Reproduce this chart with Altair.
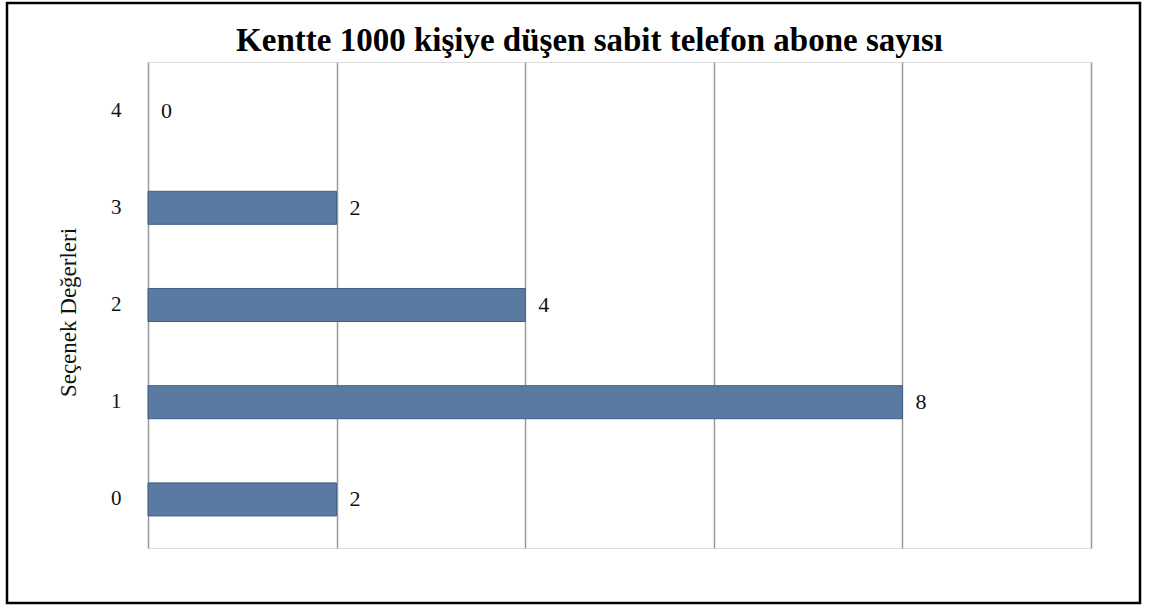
import altair as alt
import pandas as pd

categories = ["4", "3", "2", "1", "0"]
values = [0, 2, 4, 8, 2]

df = pd.DataFrame({"cat": categories, "val": values})

FONT = "Liberation Serif"

x_enc = alt.X("val:Q", scale=alt.Scale(domain=[0, 10], nice=False),
              axis=alt.Axis(values=[0, 2, 4, 6, 8, 10], labels=False, ticks=False,
                            domain=False, title=None, grid=True,
                            gridColor="#9a9a9a", gridWidth=1.5))
y_enc = alt.Y("cat:N", sort=categories,
              scale=alt.Scale(paddingInner=0.66, paddingOuter=0.33),
              axis=alt.Axis(title="Seçenek Değerleri", ticks=False, domain=False,
                            grid=False,
                            labelPadding=27, labelFont=FONT, labelFontSize=21,
                            labelColor="#111111",
                            titleFont=FONT, titleFontSize=23, titleFontWeight="normal",
                            titleColor="#111111", titleAngle=-90,
                            titleX=-80, titleY=250, titleAlign="center",
                            titleBaseline="middle"))

base = alt.Chart(df)

bars = base.transform_filter("datum.val > 0").mark_bar(
    color="#5a7aa2", stroke="#3f5f88", strokeWidth=1
).encode(x=x_enc, y=y_enc)

labels = base.mark_text(align="left", baseline="middle", dx=13, font=FONT,
                        fontSize=22, color="#111111").encode(
    x="val:Q", y=alt.Y("cat:N", sort=categories), text="val:Q"
)

border = alt.Chart(pd.DataFrame({"a": [0]})).mark_rect(
    filled=False, stroke="black", strokeWidth=2.5, clip=False
).encode(
    x=alt.value(-141), x2=alt.value(992), y=alt.value(-59), y2=alt.value(541)
)

chart = alt.layer(bars, labels, border).properties(
    width=943, height=486,
    title=alt.TitleParams("Kentte 1000 kişiye düşen sabit telefon abone sayısı",
                          font=FONT, fontSize=33, fontWeight="bold",
                          color="#000000", anchor="middle", offset=11, dy=67, dx=-30),
    autosize=alt.AutoSizeParams(type="none"),
    padding={"left": 148, "top": 62, "right": 61, "bottom": 58},
).configure_view(strokeWidth=0, stroke="transparent").configure(background="white")

chart.save("out.html", embed_options={"renderer": "svg", "actions": False})
